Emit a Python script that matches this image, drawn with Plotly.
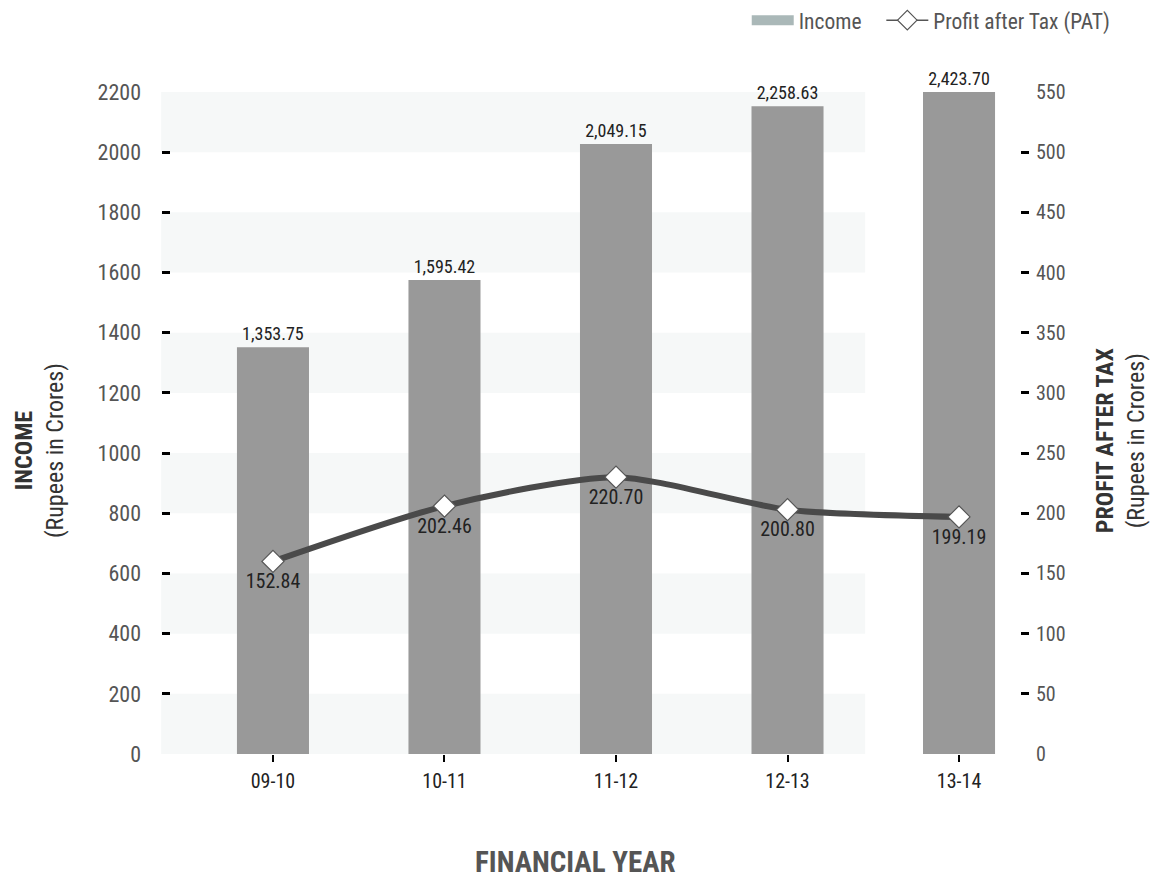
import plotly.graph_objects as go

categories = ["09-10", "10-11", "11-12", "12-13", "13-14"]
income_bar = [1352, 1575, 2027, 2153, 2200]
income_labels = ["1,353.75", "1,595.42", "2,049.15", "2,258.63", "2,423.70"]
pat_values = [160, 206, 230, 203, 197]
pat_labels = ["152.84", "202.46", "220.70", "200.80", "199.19"]
left_ticks = list(range(0, 2201, 200))
right_ticks = list(range(0, 551, 50))

FONT = "Liberation Sans Narrow, Roboto Condensed, Arial Narrow, Roboto, sans-serif"

fig = go.Figure()

fig.add_trace(go.Bar(
    x=categories, y=income_bar, width=0.42,
    marker=dict(color="#999999", line=dict(width=0)),
    text=income_labels, textposition="outside",
    textfont=dict(size=18, color="#222222", family=FONT),
    cliponaxis=False, showlegend=False, hoverinfo="skip",
))

fig.add_trace(go.Scatter(
    x=categories, y=pat_values, yaxis="y2",
    mode="lines+markers+text",
    line=dict(color="#4a4a4a", width=6, shape="spline", smoothing=0.7),
    marker=dict(symbol="diamond", size=17, color="white",
                line=dict(color="#555555", width=1.2)),
    text=pat_labels, textposition="bottom center",
    textfont=dict(size=20, color="#222222", family=FONT),
    cliponaxis=False, showlegend=False, hoverinfo="skip",
))

# legend entries
fig.add_trace(go.Scatter(
    x=[None], y=[None], mode="lines", name="Income   ",
    line=dict(color="#aab8b8", width=12),
))
fig.add_trace(go.Scatter(
    x=[None], y=[None], mode="lines+markers", name="Profit after Tax (PAT)",
    line=dict(color="#555555", width=1.5),
    marker=dict(symbol="diamond", size=15, color="white",
                line=dict(color="#555555", width=1.2)),
))

shapes = []
for i in range(0, len(left_ticks) - 1, 2):
    shapes.append(dict(
        type="rect", xref="paper", yref="y",
        x0=-0.001, x1=0.811, y0=left_ticks[i], y1=left_ticks[i + 1],
        fillcolor="#f6f8f8", line=dict(width=0), layer="below",
    ))

fig.update_layout(
    width=1155, height=878,
    margin=dict(l=162, r=126, t=92, b=124),
    paper_bgcolor="white", plot_bgcolor="white",
    font=dict(family=FONT, color="#555555"),
    shapes=shapes,
    xaxis=dict(
        type="category", range=[-0.647, 4.408],
        showgrid=False, zeroline=False, showline=False,
        ticks="outside", ticklen=7, tickwidth=2, tickcolor="#000000",
        ticklabelstandoff=2,
        tickfont=dict(size=20, color="#222222", family=FONT),
    ),
    yaxis=dict(
        range=[0, 2200], tickvals=left_ticks,
        showgrid=False, zeroline=False, showline=False,
        ticks="inside", ticklen=8, tickwidth=3, tickcolor="#000000",
        ticklabelstandoff=20,
        tickfont=dict(size=22, color="#555555", family=FONT),
    ),
    yaxis2=dict(
        range=[0, 550], tickvals=right_ticks, overlaying="y", side="right",
        showgrid=False, zeroline=False, showline=False,
        ticks="inside", ticklen=8, tickwidth=3, tickcolor="#000000",
        ticklabelstandoff=6,
        tickfont=dict(size=20, color="#555555", family=FONT),
    ),
    legend=dict(
        orientation="h", xref="container", yref="container",
        x=0.966, xanchor="right", y=0.977, yanchor="middle",
        font=dict(size=21.5, color="#555555", family=FONT),
        itemwidth=42, bgcolor="rgba(0,0,0,0)",
    ),
    annotations=[
        dict(text="<b>INCOME</b><br>(Rupees in Crores)", textangle=-90,
             xref="paper", yref="paper", x=-0.142, y=0.459,
             xanchor="center", yanchor="middle", showarrow=False, align="center",
             font=dict(size=24, color="#333333", family=FONT)),
        dict(text="<b>PROFIT AFTER TAX</b><br>(Rupees in Crores)", textangle=-90,
             xref="paper", yref="paper", x=1.105, y=0.474,
             xanchor="center", yanchor="middle", showarrow=False, align="center",
             font=dict(size=24, color="#333333", family=FONT)),
        dict(text="<b>FINANCIAL YEAR</b>",
             xref="paper", yref="paper", x=0.477, y=-0.163,
             xanchor="center", yanchor="middle", showarrow=False,
             font=dict(size=29, color="#555555", family=FONT)),
    ],
)

fig.write_html("out.html")
